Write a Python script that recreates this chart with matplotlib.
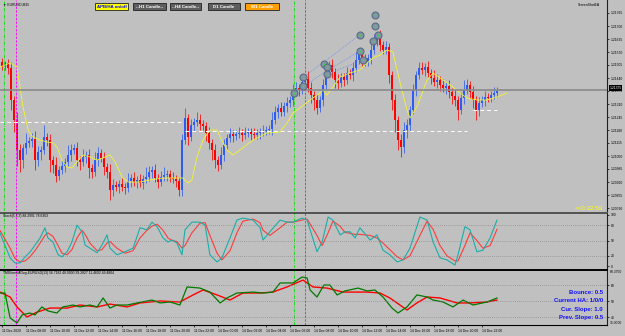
import matplotlib
matplotlib.use("Agg")
import matplotlib.pyplot as plt
from matplotlib.patches import Rectangle

plt.rcParams["font.family"] = ["Liberation Sans", "DejaVu Sans"]

W, H = 625, 336
BG = "#c0c0c0"
BULL = "#2f5cf0"
BEAR = "#ff0000"

# --- price data (M15 candles, 11 Dec 06:00 -> 14 Dec 23:15) ---
symbol = "EURUSD,M15"
open0 = 1.21520
closes = [
    1.21500, 1.21515, 1.21490, 1.21330, 1.21230, 1.21080, 1.21030, 1.21090, 1.21115, 1.21125,
    1.21135, 1.21030, 1.21070, 1.21080, 1.21145, 1.21130, 1.21030, 1.21005, 1.20950, 1.20980,
    1.21000, 1.21020, 1.21055, 1.21080, 1.21090, 1.21030, 1.21020, 1.21045, 1.21055, 1.20990,
    1.20970, 1.21030, 1.21065, 1.21040, 1.20995, 1.20970, 1.20880, 1.20905, 1.20895, 1.20910,
    1.20895, 1.20890, 1.20925, 1.20940, 1.20920, 1.20930, 1.20915, 1.20935, 1.20945, 1.20970,
    1.20980, 1.20940, 1.20920, 1.20945, 1.20955, 1.20960, 1.20940, 1.20935, 1.20925, 1.20880,
    1.21130, 1.21240, 1.21145, 1.21205, 1.21220, 1.21230, 1.21210, 1.21200, 1.21165, 1.21115,
    1.21080, 1.21030, 1.21005, 1.21055, 1.21105, 1.21140, 1.21160, 1.21150, 1.21160, 1.21165,
    1.21155, 1.21165, 1.21170, 1.21160, 1.21155, 1.21165, 1.21170, 1.21175, 1.21180, 1.21185,
    1.21230, 1.21270, 1.21290, 1.21270, 1.21300, 1.21315, 1.21330, 1.21370, 1.21390, 1.21380,
    1.21420, 1.21435, 1.21390, 1.21355, 1.21330, 1.21290, 1.21330, 1.21405, 1.21480, 1.21505,
    1.21470, 1.21430, 1.21415, 1.21445, 1.21430, 1.21465, 1.21455, 1.21490, 1.21530, 1.21555,
    1.21530, 1.21520, 1.21540, 1.21580, 1.21620, 1.21650, 1.21605, 1.21580, 1.21595, 1.21455,
    1.21330, 1.21230, 1.21130, 1.21095, 1.21180, 1.21205, 1.21280, 1.21380, 1.21455, 1.21490,
    1.21480, 1.21495, 1.21465, 1.21440, 1.21420, 1.21430, 1.21405, 1.21390, 1.21400, 1.21370,
    1.21350, 1.21330, 1.21280, 1.21340, 1.21380, 1.21405, 1.21370, 1.21330, 1.21280, 1.21315,
    1.21330, 1.21345, 1.21340, 1.21355, 1.21365, 1.21375,
]
# wick lengths in pips above / below the body
wick_up = [
    2, 1, 2, 3, 2, 4, 3, 2, 5, 2, 3, 4, 3, 2, 6, 2, 3, 2, 4, 2,
    3, 2, 5, 3, 2, 3, 2, 4, 2, 3, 2, 4, 3, 2, 3, 2, 4, 3, 2, 2,
    3, 2, 4, 2, 3, 2, 3, 2, 5, 3, 2, 3, 2, 3, 4, 2, 2, 3, 2, 2,
    3, 5, 2, 3, 2, 4, 3, 2, 2, 3, 2, 3, 2, 4, 3, 2, 3, 2, 2, 3,
    2, 3, 2, 2, 3, 2, 2, 3, 2, 2, 4, 3, 2, 3, 2, 3, 2, 4, 3, 2,
    3, 2, 4, 3, 2, 3, 2, 3, 4, 2, 3, 2, 3, 2, 2, 3, 2, 3, 4, 3,
    2, 3, 2, 3, 4, 2, 3, 2, 3, 2, 2, 3, 2, 3, 4, 3, 2, 3, 2, 3,
    3, 2, 3, 2, 4, 3, 2, 3, 2, 3, 2, 3, 2, 3, 5, 3, 2, 3, 2, 3,
    2, 3, 2, 2, 3, 2,
]
wick_dn = [
    2, 2, 3, 5, 6, 8, 6, 4, 3, 2, 3, 5, 3, 4, 2, 3, 6, 4, 3, 2,
    2, 3, 2, 3, 2, 3, 4, 2, 3, 5, 3, 2, 3, 2, 4, 3, 5, 3, 2, 3,
    2, 3, 2, 3, 2, 3, 2, 3, 2, 2, 3, 2, 3, 2, 2, 3, 2, 2, 3, 3,
    3, 2, 4, 2, 3, 2, 3, 2, 4, 3, 5, 4, 3, 2, 3, 2, 2, 3, 2, 2,
    3, 2, 2, 3, 2, 2, 3, 2, 2, 2, 3, 2, 3, 2, 2, 3, 2, 3, 2, 3,
    2, 3, 2, 4, 5, 3, 2, 3, 2, 2, 3, 4, 3, 2, 3, 2, 2, 3, 2, 2,
    3, 2, 2, 3, 2, 2, 3, 2, 2, 4, 5, 6, 5, 5, 3, 4, 3, 2, 3, 2,
    2, 3, 2, 3, 2, 3, 3, 2, 3, 3, 4, 3, 5, 2, 3, 2, 3, 4, 5, 3,
    2, 3, 2, 2, 2, 2,
]

# yellow moving average, read at sample bars
ma_idx = [-0.7, 2.7, 5, 6, 7, 8.7, 10.3, 12.7, 15, 17, 18.3, 20, 21.7, 23.3, 25, 27,
          29.3, 31.7, 33.7, 36, 37.7, 40, 42, 46, 49.3, 53.7, 57, 60.3, 62, 63.3, 65,
          67, 69.3, 71.7, 72.7, 75, 77, 79.3, 83.7, 88.3, 92.7, 95, 97, 99.3, 102.7,
          106, 107, 108.3, 110.3, 112.7, 116, 119.3, 121.7, 123.7, 126, 128.3, 130.3,
          132.7, 135, 136, 138.3, 141.7, 143.7, 147, 150.3, 152.7, 155, 158.3, 161.7,
          165, 168.3]
ma_val = [1.21495, 1.21515, 1.21495, 1.21395, 1.21295, 1.21180, 1.21145, 1.21130,
          1.21120, 1.21115, 1.21095, 1.21030, 1.20995, 1.20990, 1.21020, 1.21055,
          1.21045, 1.21030, 1.21040, 1.21055, 1.21020, 1.20945, 1.20920, 1.20920,
          1.20930, 1.20940, 1.20940, 1.20940, 1.20915, 1.20930, 1.21045, 1.21130,
          1.21180, 1.21180, 1.21145, 1.21080, 1.21055, 1.21080, 1.21130, 1.21165,
          1.21170, 1.21215, 1.21265, 1.21290, 1.21330, 1.21365, 1.21380, 1.21355,
          1.21395, 1.21445, 1.21465, 1.21480, 1.21515, 1.21540, 1.21555, 1.21580,
          1.21570, 1.21415, 1.21280, 1.21240, 1.21295, 1.21430, 1.21465, 1.21430,
          1.21395, 1.21365, 1.21340, 1.21330, 1.21330, 1.21345, 1.21365]

# white dashed levels: (start bar, end bar, price)
levels = [(-0.7, 60.3, 1.21220), (61, 155, 1.21175), (157, 165, 1.21280)]

# signal circles
sig_idx = [97.3, 100.4, 100.4, 107.3, 108.4, 108.4, 119.3, 119.3, 120.4, 123.8, 124.3, 124.3, 125.4]
sig_val = [1.21363, 1.21443, 1.21400, 1.21510, 1.21497, 1.21460, 1.21655, 1.21577,
           1.21530, 1.21627, 1.21755, 1.21700, 1.21655]
sig_links = [(1, 6), (2, 7), (5, 8)]

# vertical session markers
green_marks = [0.7, 97.3]
magenta_marks = [4.7, 101.0]

# stochastic (5,3,3)
st_idx = [-0.7, 2.7, 4.3, 6, 7.7, 9.3, 11, 12.7, 14.3, 15.3, 17, 18.7, 20, 21.7, 23.3,
          25, 26.7, 27.7, 29.3, 31.7, 33.3, 35, 36, 38.3, 41, 43.7, 46, 48.3, 50, 51.7,
          53.7, 55.3, 56.7, 58.3, 60, 61, 63.3, 66, 67.7, 69.3, 71.7, 73.3, 76, 78.3,
          80.3, 83.7, 86, 87, 89.3, 92.7, 95, 97, 100, 101.7, 105, 106.7, 108.7, 110.3,
          112.7, 114.3, 116, 117.7, 119.3, 122.7, 125, 127, 129.3, 131.7, 133.7, 136,
          139.3, 141.7, 143.7, 146, 148.3, 151, 152, 154.3, 156, 158.3, 160.3, 162.7, 165]
st_main = [65, 16, 6, 6, 18, 27, 41, 55, 75, 55, 47, 22, 18, 28, 47, 80, 67, 41, 35,
           26, 41, 61, 35, 22, 28, 35, 75, 71, 86, 77, 55, 47, 51, 45, 22, 71, 86, 86,
           80, 22, 8, 16, 55, 90, 94, 90, 75, 51, 67, 90, 86, 86, 94, 90, 28, 47, 96,
           90, 61, 67, 67, 55, 75, 51, 61, 31, 22, 8, 12, 35, 96, 90, 47, 16, 12, 2,
           22, 77, 71, 28, 31, 55, 90]
st_signal = [70, 35, 15, 8, 10, 18, 30, 45, 60, 65, 58, 40, 25, 22, 32, 55, 70, 62, 45,
             30, 32, 45, 48, 35, 25, 30, 55, 70, 78, 82, 70, 55, 50, 48, 35, 40, 65, 84,
             85, 60, 25, 12, 30, 65, 88, 92, 85, 70, 60, 75, 86, 86, 90, 92, 60, 40, 65,
             88, 78, 66, 64, 62, 62, 60, 55, 45, 32, 18, 12, 20, 60, 88, 72, 40, 20, 10,
             10, 40, 65, 50, 35, 40, 72]

# lower oscillator
gr_idx = [-0.7, 1, 2.7, 5, 6.7, 9.3, 11, 13.3, 15.3, 18.3, 20.3, 23.7, 26, 29.3, 31.7,
          33.7, 36, 38.3, 41.7, 45, 50, 52.7, 56, 59.3, 61.7, 66, 69.3, 72.7, 75, 78.3,
          83.7, 87, 90.3, 92.7, 97, 100, 101.7, 102.7, 105, 107.3, 109.3, 111.7, 114.3,
          118.7, 121.7, 124.3, 127, 130, 132, 135, 138.3, 141.7, 143.7, 147, 150.3,
          153.7, 157, 161.7, 165]
gr_val = [55, 55, 39.4, 36.3, 41.3, 42.5, 41.3, 46.3, 43.8, 42.5, 46.3, 47.5, 46.3, 47.5,
          46.3, 51.9, 45.6, 47.5, 47.5, 48.8, 50.6, 48.8, 49.4, 47.5, 58.8, 58.1, 55.6,
          48.8, 51.9, 55, 55.6, 55, 55.6, 61.3, 61.3, 65, 64.4, 56.9, 52.5, 60, 60, 53.8,
          56.3, 58.1, 56.3, 56.9, 52.5, 45.6, 42.5, 46.3, 53.8, 52.5, 50.6, 49.4, 46.3,
          50.6, 47.5, 49.4, 51.9]
rd_idx = [-0.7, 2.7, 5, 8.3, 11.7, 16, 21.7, 26, 31.7, 36, 41.7, 46, 52.7, 59.3, 63.7,
          67, 71.7, 76, 80.3, 86, 90.3, 95, 100.3, 103.7, 108.3, 113.7, 121.7, 126,
          129.3, 135, 138.3, 141.7, 146, 151.7, 156, 161.7, 165]
rd_val = [55.6, 52.5, 46.3, 40, 43.1, 45.6, 45.6, 47.5, 46.3, 48.1, 46.3, 48.8, 50, 49.4,
          53.8, 56.9, 53.8, 50.6, 55, 55, 55.6, 58.8, 63.1, 58.8, 58.1, 55.6, 55.6, 55,
          51.9, 44.4, 48.8, 52.5, 51.9, 48.8, 48.8, 49.4, 50.6]

price_ticks = [1.21765 - 0.00065 * k for k in range(16)]
time_labels = ["11 Dec 2020", "11 Dec 08:00", "11 Dec 10:00", "11 Dec 12:00", "11 Dec 14:00",
               "11 Dec 16:00", "11 Dec 18:00", "11 Dec 20:00", "11 Dec 22:00", "14 Dec 00:00",
               "14 Dec 02:00", "14 Dec 04:00", "14 Dec 06:00", "14 Dec 08:00", "14 Dec 10:00",
               "14 Dec 12:00", "14 Dec 14:00", "14 Dec 16:00", "14 Dec 18:00", "14 Dec 20:00",
               "14 Dec 22:00"]
info_lines = ["Bounce: 0.5", "Current HA: 1/0/0", "Cur. Slope: 1.0", "Prev. Slope: 0.5"]

SMALL = 2.4


def fx(x):
    return x / W


def fy(y):
    return 1 - y / H


fig = plt.figure(figsize=(W / 100, H / 100), dpi=100, facecolor=BG)
xlim = (-2 / 3, 605 / 3)
ax = fig.add_axes([0, fy(211), fx(607), 211 / H], facecolor=BG)
ax2 = fig.add_axes([0, fy(268), fx(607), 55 / H], facecolor=BG)
ax3 = fig.add_axes([0, fy(325), fx(607), 55 / H], facecolor=BG)

for a in (ax, ax2, ax3):
    a.set_xlim(*xlim)
    for s in ("left", "top", "bottom"):
        a.spines[s].set_visible(False)
    a.spines["right"].set_color("#202020")
    a.spines["right"].set_linewidth(0.8)
    a.yaxis.tick_right()
    a.tick_params(axis="y", labelsize=SMALL, length=1.5, width=0.5, pad=1, colors="black")
    a.tick_params(axis="x", bottom=False, labelbottom=False)
    for xm in green_marks:
        a.axvline(xm, color="#00e000", lw=0.6, ls=(0, (4, 1.5, 1, 1.5)))
    for xm in magenta_marks:
        a.axvline(xm, color="#ff00ff", lw=0.6, ls=(0, (3, 1.5)))

# ---- main candles ----
n = len(closes)
opens = [open0] + closes[:-1]
pip = 0.0001
idx = list(range(n))
cols = [BULL if c >= o else BEAR for o, c in zip(opens, closes)]
highs = [max(o, c) + u * pip for o, c, u in zip(opens, closes, wick_up)]
lows = [min(o, c) - d * pip for o, c, d in zip(opens, closes, wick_dn)]
ax.vlines(idx, lows, highs, colors=cols, lw=0.55)
ax.bar(idx, [max(abs(c - o), 0.00003) for o, c in zip(opens, closes)],
       bottom=[min(o, c) for o, c in zip(opens, closes)], width=0.72, color=cols, lw=0)
ax.plot(ma_idx, ma_val, color="#f4f430", lw=0.6)
for x0, x1, p in levels:
    ax.hlines(p, x0, x1, colors="white", lw=0.7, linestyles=(0, (4, 3)))
ax.axhline(closes[-1] + 1.2 * pip, color="#8a8a8a", lw=0.6)
ax.axhline(closes[-1] + 0.5 * pip, color="#8a8a8a", lw=0.6)
for a_, b_ in sig_links:
    ax.plot([sig_idx[a_], sig_idx[b_]], [sig_val[a_], sig_val[b_]], color="#5080ff",
            lw=0.5, ls=(0, (1, 1.5)))
ax.plot(sig_idx, sig_val, ls="none", marker="o", ms=5, mfc="#8494a8", mec="#5c6c80", mew=0.8)
ax.plot(sig_idx, sig_val, ls="none", marker="o", ms=1.2, mfc="#30e030", mec="none")
ax.set_ylim(1.2183 - 0.00005 * 211, 1.2183)
ax.set_yticks(price_ticks)
ax.set_yticklabels([f"{p:.5f}" for p in price_ticks])
ax.text(1.004, closes[-1] + 1.5 * pip, f"{closes[-1]:.5f}", transform=ax.get_yaxis_transform(),
        fontsize=SMALL, color="white", va="center", ha="left",
        bbox=dict(boxstyle="square,pad=0.2", fc="black", ec="none"), zorder=5, clip_on=False)

# ---- stochastic ----
ax2.plot(st_idx, st_signal, color="#ff3c3c", lw=0.8)
ax2.plot(st_idx, st_main, color="#1aaea8", lw=0.8)
for lv in (20, 50, 80):
    ax2.axhline(lv, color="#7a7a7a", lw=0.5, ls=(0, (1, 2)))
ax2.set_ylim(-3.9, 103.9)
ax2.set_yticks([100, 80, 50, 20, 0])
ax2.spines["top"].set_visible(True)
ax2.spines["top"].set_color("#404040")
ax2.spines["top"].set_linewidth(1.2)

# ---- lower oscillator ----
ax3.plot(rd_idx, rd_val, color="#ff0000", lw=1.0)
ax3.plot(gr_idx, gr_val, color="#007a00", lw=0.9)
for lv in (40, 50, 60):
    ax3.axhline(lv, color="#7a7a7a", lw=0.5, ls=(0, (1, 2)))
ax3.set_ylim(35.0, 69.4)
ax3.set_yticks([60, 50, 40])
ax3.spines["top"].set_visible(True)
ax3.spines["top"].set_linewidth(1.4)
ax3.spines["top"].set_color("black")
ax3.spines["bottom"].set_visible(True)
ax3.spines["bottom"].set_linewidth(0.8)
ax3.set_xticks([8 * k for k in range(len(time_labels))])
ax3.set_xticklabels(time_labels)
ax3.tick_params(axis="x", bottom=True, labelbottom=True, labelsize=SMALL, length=1.5,
                width=0.5, pad=1.2)
for lab in ax3.get_xticklabels():
    lab.set_ha("left")

# ---- overlay texts ----
fig.text(fx(3), fy(5), "\u25bc " + symbol, fontsize=SMALL, va="center", color="black")
fig.text(fx(600), fy(5), "ScreenShotEA", fontsize=SMALL, va="center", ha="right", color="black")
fig.text(fx(603), fy(208), "<<0:32:59", fontsize=4.5, va="center", ha="right", color="#ffff00")
fig.text(fx(3), fy(216), "Stoch(5,3,3) 88.2991 78.6363", fontsize=SMALL, va="center")
fig.text(fx(3), fy(273), "TMSlimer/ADog-EURUSD(13) 56.7182 48.0000 39.2827 11.4602 49.4804",
         fontsize=SMALL, va="center")
fig.text(fx(609.5), fy(272), "69.3750", fontsize=SMALL, va="center")
fig.text(fx(609.5), fy(323), "35.0000", fontsize=SMALL, va="center")
for k, line in enumerate(info_lines):
    fig.text(fx(603), fy(293 + 8 * k), line, fontsize=4.3, fontweight="bold", color="#1010ff",
             ha="right", va="center")

buttons = [("APB/HA on/off", 95, 33, "#ffff00", "#0000ff"),
           ("--H1 Candle--", 133, 33, "#5e5e5e", "white"),
           ("--H4 Candle--", 170, 31, "#5e5e5e", "white"),
           ("D1 Candle", 208, 32, "#5e5e5e", "white"),
           ("W1 Candle", 245, 34, "#ffa000", "white")]
for label, x0, w, fc, tc in buttons:
    fig.patches.append(Rectangle((fx(x0), fy(10)), w / W, 7 / H, transform=fig.transFigure,
                                 fc=fc, ec="#202020", lw=0.6))
    fig.text(fx(x0 + w / 2), fy(6.5), label, fontsize=3.2, fontweight="bold", color=tc,
             ha="center", va="center")

fig.savefig("out.png", dpi=100, facecolor=BG)
